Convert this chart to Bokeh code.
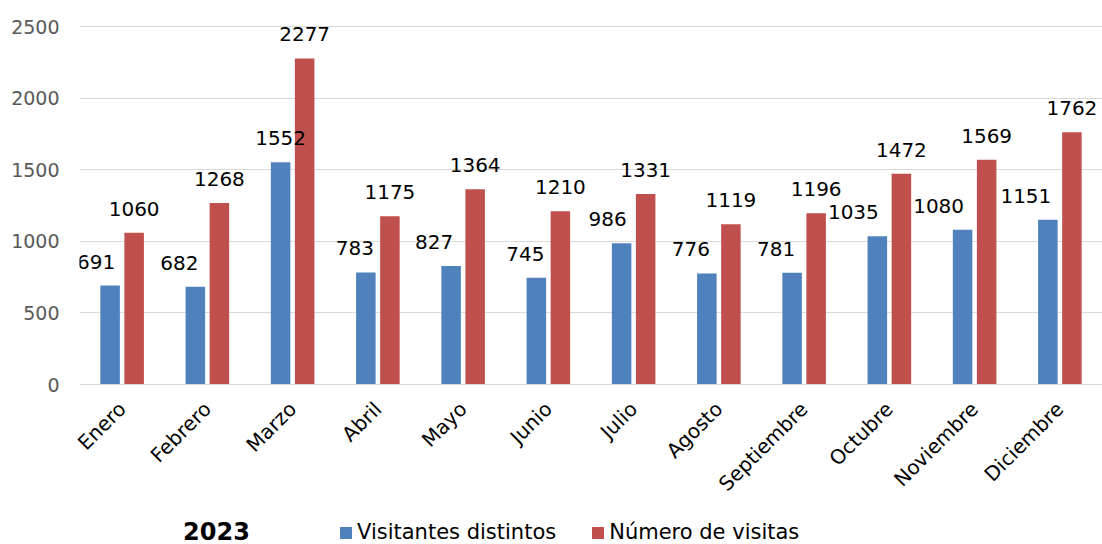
from bokeh.plotting import figure
from bokeh.models import ColumnDataSource, FactorRange, Range1d, FixedTicker, Legend, LegendItem, Label
from bokeh.layouts import column
from bokeh.transform import dodge
from bokeh.core.properties import value
from bokeh.embed import file_html
from bokeh.resources import INLINE
import math

months = ["Enero", "Febrero", "Marzo", "Abril", "Mayo", "Junio", "Julio",
          "Agosto", "Septiembre", "Octubre", "Noviembre", "Diciembre"]
visitantes = [691, 682, 1552, 783, 827, 745, 986, 776, 781, 1035, 1080, 1151]
visitas = [1060, 1268, 2277, 1175, 1364, 1210, 1331, 1119, 1196, 1472, 1569, 1762]
y_ticks = [0, 500, 1000, 1500, 2000, 2500]
year_label = "2023"
series_names = ["Visitantes distintos", "Número de visitas"]

# style: horizontal nudge (px) of the blue value labels, as placed in the original
blue_label_nudge = [-14, -16, 0, -11, -17, -11, -14, -16, -16, -24, -24, -22]

BLUE = "#4F81BD"
RED = "#C0504D"
FONT = "DejaVu Sans"

src = ColumnDataSource(dict(
    month=months,
    a=visitantes,
    b=visitas,
    a_txt=[str(v) for v in visitantes],
    b_txt=[str(v) for v in visitas],
    a_dx=blue_label_nudge,
))

p = figure(width=1102, height=514, output_backend="svg", toolbar_location=None,
           x_range=FactorRange(*months, range_padding=0),
           y_range=Range1d(0, 2598),
           min_border_left=79, min_border_right=0, min_border_top=12,
           min_border_bottom=130)
p.outline_line_color = None
p.background_fill_color = "white"
p.border_fill_color = "white"

off = 0.141
w = 0.229
p.vbar(x=dodge("month", -off, range=p.x_range), top="a", width=w, source=src,
       fill_color=BLUE, line_color=None)
p.vbar(x=dodge("month", off, range=p.x_range), top="b", width=w, source=src,
       fill_color=RED, line_color=None)

p.text(x=dodge("month", -off, range=p.x_range), y="a", text="a_txt", source=src,
       text_align="center", text_baseline="bottom", y_offset=-17, x_offset="a_dx",
       text_font=value(FONT), text_font_size="20px", text_color="black")
p.text(x=dodge("month", off, range=p.x_range), y="b", text="b_txt", source=src,
       text_align="center", text_baseline="bottom", y_offset=-17,
       text_font=value(FONT), text_font_size="20px", text_color="black")

p.yaxis.ticker = FixedTicker(ticks=y_ticks)
p.yaxis.axis_line_color = None
p.yaxis.major_tick_line_color = None
p.yaxis.minor_tick_line_color = None
p.yaxis.major_label_text_font = FONT
p.yaxis.major_label_text_font_size = "19px"
p.yaxis.major_label_text_color = "#595959"
p.yaxis.major_label_standoff = 14

p.xaxis.axis_line_color = "#d9d9d9"
p.xaxis.major_tick_line_color = None
p.xaxis.minor_tick_line_color = None
p.xaxis.major_label_orientation = math.pi / 4
p.xaxis.major_label_text_font = FONT
p.xaxis.major_label_text_font_size = "20px"
p.xaxis.major_label_text_color = "black"
p.xaxis.major_label_standoff = 15

p.xgrid.grid_line_color = None
p.ygrid.grid_line_color = "#d9d9d9"
p.ygrid.grid_line_width = 1

# legend strip below the chart (its frame is aligned with the chart's frame)
q = figure(width=1102, height=30, output_backend="svg", toolbar_location=None,
           x_range=Range1d(0, 1), y_range=Range1d(0, 1),
           x_axis_type=None, y_axis_type=None,
           min_border_left=79, min_border_right=0, min_border_top=0, min_border_bottom=0)
q.outline_line_color = None
q.grid.visible = False
key_src = ColumnDataSource(dict(x=[0], top=[0]))  # zero-height key glyphs
l1 = q.vbar(x="x", top="top", width=0.1, source=key_src, fill_color=BLUE, line_color=None)
l2 = q.vbar(x="x", top="top", width=0.1, source=key_src, fill_color=RED, line_color=None)

legend = Legend(items=[LegendItem(label=series_names[0], renderers=[l1]),
                       LegendItem(label=series_names[1], renderers=[l2])],
                location=(259, 0), orientation="horizontal",
                glyph_width=15, glyph_height=15, label_standoff=4, spacing=34,
                padding=0, margin=0, background_fill_alpha=0, border_line_color=None,
                label_text_font=FONT, label_text_font_size="21px", label_text_color="black",
                label_height=20)
q.add_layout(legend, "center")

q.add_layout(Label(x=137, y=14, x_units="screen", y_units="screen", text=year_label,
                   text_align="center", text_baseline="middle", text_font=FONT,
                   text_font_size="24px", text_font_style="bold", text_color="black"))

open("out.html", "w").write(file_html(column(p, q, spacing=0), INLINE))
